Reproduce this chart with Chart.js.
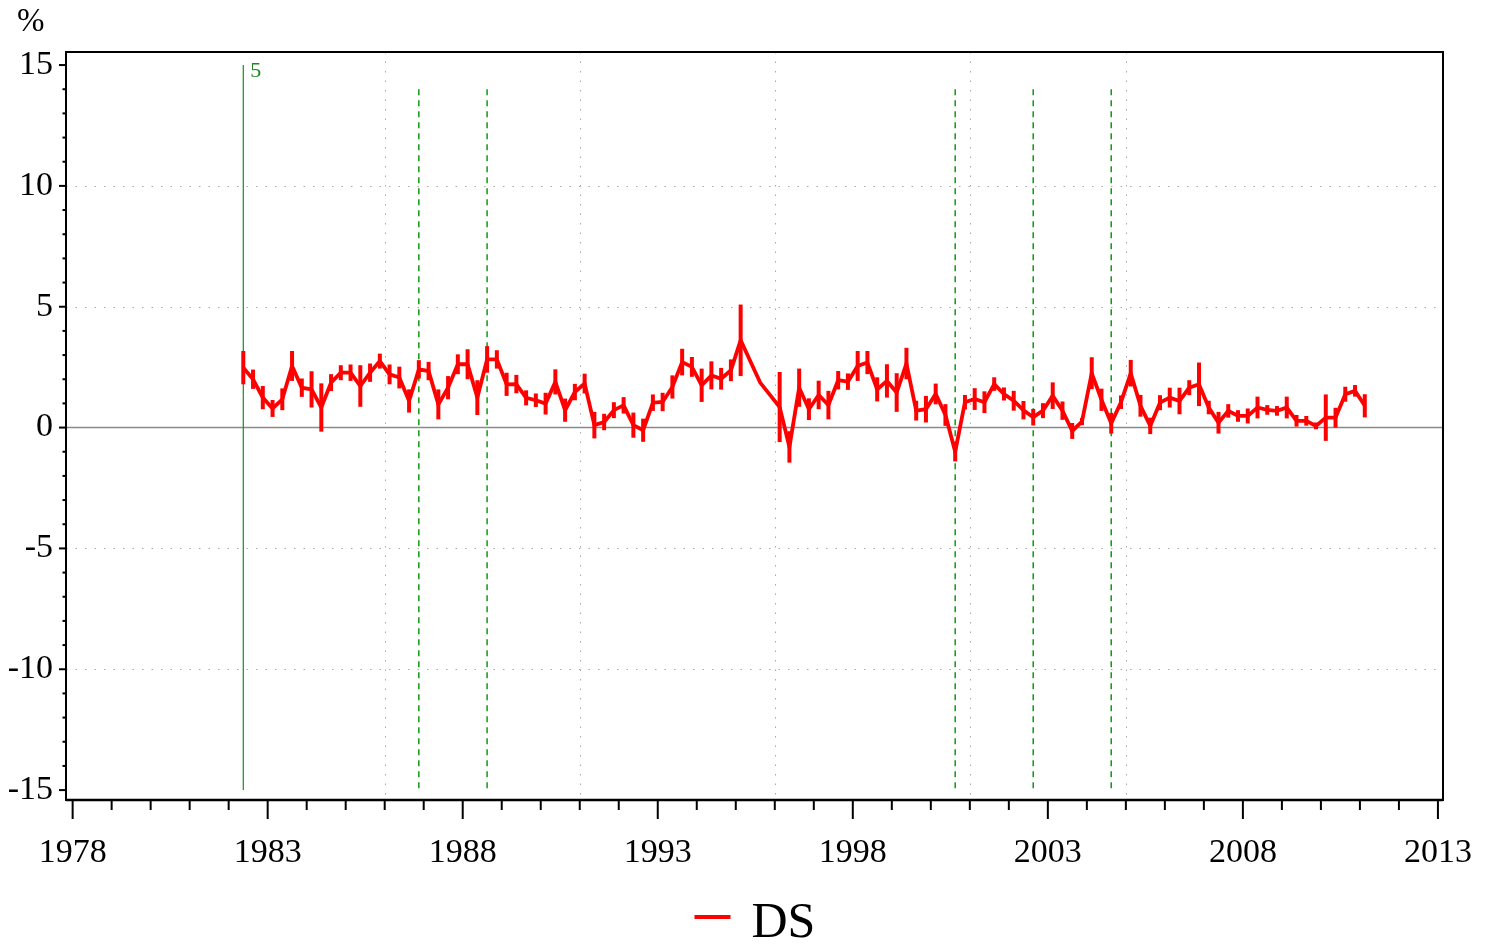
<!DOCTYPE html>
<html>
<head>
<meta charset="utf-8">
<title>DS</title>
<script src="https://cdn.jsdelivr.net/npm/chart.js@4.4.1/dist/chart.umd.min.js"></script>
<style>
  html, body { margin: 0; padding: 0; background: #fff; }
  #wrap { width: 1489px; height: 945px; position: relative; }
</style>
</head>
<body>
<div id="wrap"><canvas id="chart"></canvas></div>
<script>
// quarterly observations, 1982Q2 - 2011Q1
const quarters = [
  '1982Q2','1982Q3','1982Q4',
  '1983Q1','1983Q2','1983Q3','1983Q4',
  '1984Q1','1984Q2','1984Q3','1984Q4',
  '1985Q1','1985Q2','1985Q3','1985Q4',
  '1986Q1','1986Q2','1986Q3','1986Q4',
  '1987Q1','1987Q2','1987Q3','1987Q4',
  '1988Q1','1988Q2','1988Q3','1988Q4',
  '1989Q1','1989Q2','1989Q3','1989Q4',
  '1990Q1','1990Q2','1990Q3','1990Q4',
  '1991Q1','1991Q2','1991Q3','1991Q4',
  '1992Q1','1992Q2','1992Q3','1992Q4',
  '1993Q1','1993Q2','1993Q3','1993Q4',
  '1994Q1','1994Q2','1994Q3','1994Q4',
  '1995Q1','1995Q2','1995Q3','1995Q4',
  '1996Q1','1996Q2','1996Q3','1996Q4',
  '1997Q1','1997Q2','1997Q3','1997Q4',
  '1998Q1','1998Q2','1998Q3','1998Q4',
  '1999Q1','1999Q2','1999Q3','1999Q4',
  '2000Q1','2000Q2','2000Q3','2000Q4',
  '2001Q1','2001Q2','2001Q3','2001Q4',
  '2002Q1','2002Q2','2002Q3','2002Q4',
  '2003Q1','2003Q2','2003Q3','2003Q4',
  '2004Q1','2004Q2','2004Q3','2004Q4',
  '2005Q1','2005Q2','2005Q3','2005Q4',
  '2006Q1','2006Q2','2006Q3','2006Q4',
  '2007Q1','2007Q2','2007Q3','2007Q4',
  '2008Q1','2008Q2','2008Q3','2008Q4',
  '2009Q1','2009Q2','2009Q3','2009Q4',
  '2010Q1','2010Q2','2010Q3','2010Q4',
  '2011Q1'
];

// DS, %
const dsValues = [
  2.48, 2.0, 1.24,
  0.79, 1.17, 2.55, 1.65,
  1.58, 0.83, 1.86, 2.27,
  2.27, 1.72, 2.27, 2.75,
  2.2, 2.07, 1.1, 2.41,
  2.34, 0.96, 1.65, 2.62,
  2.62, 1.24, 2.82, 2.82,
  1.79, 1.8, 1.23, 1.13,
  0.99, 1.89, 0.72, 1.47,
  1.82, 0.1, 0.23, 0.72,
  0.92, 0.1, -0.11, 1.03,
  1.06, 1.68, 2.71, 2.51,
  1.75, 2.16, 2.02, 2.37,
  3.61, null, 1.86, null,
  0.85, -0.8, 1.65, 0.76,
  1.35, 0.93, 1.96, 1.9,
  2.55, 2.69, 1.58, 1.93,
  1.45, 2.65, 0.7, 0.76,
  1.39, 0.52, -1.0, 1.05,
  1.18, 1.05, 1.8, 1.39,
  1.11, 0.72, 0.43, 0.7,
  1.32, 0.7, -0.14, 0.25,
  2.25, 1.15, 0.18, 1.05,
  2.25, 0.9, 0.07, 1.03,
  1.24, 1.1, 1.65, 1.79,
  0.83, 0.2, 0.69, 0.48,
  0.48, 0.83, 0.73, 0.69,
  0.83, 0.28, 0.28, 0.07,
  0.41, 0.41, 1.38, 1.52,
  0.9
];

// half length of the vertical bar at each point
const dsErrors = [
  0.69, 0.4, 0.48,
  0.35, 0.45, 0.62, 0.38,
  0.75, 1.0, 0.35, 0.31,
  0.34, 0.86, 0.38, 0.31,
  0.41, 0.45, 0.48, 0.38,
  0.38, 0.62, 0.48, 0.41,
  0.62, 0.72, 0.55, 0.38,
  0.48, 0.38, 0.31, 0.28,
  0.45, 0.52, 0.48, 0.34,
  0.41, 0.55, 0.34, 0.33,
  0.34, 0.52, 0.48, 0.34,
  0.38, 0.48, 0.55, 0.41,
  0.69, 0.58, 0.45, 0.45,
  1.48, null, 0, null,
  1.45, 0.65, 0.79, 0.45,
  0.59, 0.59, 0.38, 0.34,
  0.62, 0.48, 0.5, 0.69,
  0.8, 0.65, 0.41, 0.55,
  0.43, 0.45, 0.4, 0.3,
  0.45, 0.45, 0.28, 0.27,
  0.41, 0.38, 0.34, 0.31,
  0.55, 0.38, 0.33, 0.15,
  0.66, 0.46, 0.43, 0.28,
  0.55, 0.45, 0.34, 0.31,
  0.41, 0.55, 0.31, 0.9,
  0.28, 0.45, 0.28, 0.24,
  0.31, 0.45, 0.2, 0.2,
  0.45, 0.24, 0.2, 0.14,
  0.96, 0.41, 0.31, 0.24,
  0.48
];

const xTickYears = [1978, 1983, 1988, 1993, 1998, 2003, 2008, 2013];
const yTickValues = [-15, -10, -5, 0, 5, 10, 15];
const gridYears = [1986, 1991, 1996, 2001, 2005];
const gridLevels = [-10, -5, 5, 10];
const unitLabel = '%';

// green markers
const breakQuarter = '1982Q2';
const breakLabel = '5';
const dashedQuarters = ['1986Q4', '1988Q3', '2000Q3', '2002Q3', '2004Q3'];

const serif = '"Liberation Serif", "Times New Roman", serif';

// '1990Q3' -> middle of that quarter as a decimal year
const toYear = q => Number(q.slice(0, 4)) + (Number(q.slice(5)) - 1) / 4 + 0.125;

const points = quarters.map((q, i) => ({ x: toYear(q), y: dsValues[i] }));

function seg(ctx, x1, y1, x2, y2) {
  ctx.beginPath();
  ctx.moveTo(x1, y1);
  ctx.lineTo(x2, y2);
  ctx.stroke();
}

const overlay = {
  id: 'overlay',
  beforeDatasetsDraw(chart) {
    const { ctx, chartArea: a, scales: { x, y } } = chart;
    ctx.save();

    // dotted grid
    ctx.strokeStyle = '#a8a8a8';
    ctx.lineWidth = 1;
    ctx.setLineDash([1.5, 8]);
    gridLevels.forEach(v => {
      const py = Math.round(y.getPixelForValue(v)) + 0.5;
      seg(ctx, a.left, py, a.right, py);
    });
    gridYears.forEach(v => {
      const px = Math.round(x.getPixelForValue(v)) + 0.5;
      seg(ctx, px, a.top, px, a.bottom);
    });

    // zero line
    ctx.setLineDash([]);
    ctx.strokeStyle = '#8a8a8a';
    ctx.lineWidth = 1.5;
    const y0 = y.getPixelForValue(0);
    seg(ctx, a.left, y0, a.right, y0);

    // green markers
    ctx.strokeStyle = '#1a8a1a';
    ctx.lineWidth = 1.2;
    const bx = x.getPixelForValue(toYear(breakQuarter));
    seg(ctx, bx, y.getPixelForValue(15), bx, y.getPixelForValue(-15));
    ctx.fillStyle = '#1a8a1a';
    ctx.font = '22px ' + serif;
    ctx.textBaseline = 'middle';
    ctx.textAlign = 'left';
    ctx.fillText(breakLabel, bx + 7, y.getPixelForValue(15) + 6);

    ctx.strokeStyle = '#119911';
    ctx.lineWidth = 1.5;
    ctx.setLineDash([6, 5]);
    dashedQuarters.forEach(q => {
      const px = x.getPixelForValue(toYear(q));
      seg(ctx, px, y.getPixelForValue(14), px, y.getPixelForValue(-15));
    });
    ctx.restore();
  },
  afterDatasetsDraw(chart) {
    const { ctx, scales: { x, y } } = chart;
    ctx.save();
    ctx.strokeStyle = '#ff0000';
    ctx.lineWidth = 4;
    points.forEach((p, i) => {
      const e = dsErrors[i];
      if (p.y === null || !e) return;
      const px = x.getPixelForValue(p.x);
      seg(ctx, px, y.getPixelForValue(p.y + e), px, y.getPixelForValue(p.y - e));
    });
    ctx.restore();
  },
  afterDraw(chart) {
    const { ctx, chartArea: a, scales: { x, y } } = chart;
    ctx.save();
    ctx.strokeStyle = '#000';

    // frame
    ctx.lineWidth = 2;
    ctx.strokeRect(a.left, a.top, a.right - a.left, a.bottom - a.top);
    ctx.lineWidth = 2.5;
    seg(ctx, a.left, a.bottom, a.right, a.bottom);

    // x ticks, major every 5 years, minor yearly
    ctx.lineWidth = 2;
    for (let yr = xTickYears[0]; yr <= xTickYears[xTickYears.length - 1]; yr++) {
      const px = x.getPixelForValue(yr);
      const len = xTickYears.includes(yr) ? 19 : 10;
      seg(ctx, px, a.bottom, px, a.bottom + len);
    }
    // y ticks, major every 5, minor every 1
    for (let v = yTickValues[0]; v <= yTickValues[yTickValues.length - 1]; v++) {
      const py = y.getPixelForValue(v);
      const len = yTickValues.includes(v) ? 7 : 3.5;
      seg(ctx, a.left - len, py, a.left, py);
    }

    // unit label above the y axis
    ctx.fillStyle = '#000';
    ctx.font = '33px ' + serif;
    ctx.textAlign = 'left';
    ctx.textBaseline = 'middle';
    ctx.fillText(unitLabel, 17, a.top - 30);

    // legend
    const cx = (a.left + a.right) / 2;
    const ly = a.bottom + 117;
    ctx.strokeStyle = '#ff0000';
    ctx.lineWidth = 4;
    seg(ctx, cx - 60, ly, cx - 24, ly);
    ctx.font = '50px ' + serif;
    ctx.textBaseline = 'alphabetic';
    ctx.fillText(chart.data.datasets[0].label, cx - 3, ly + 20);
    ctx.restore();
  }
};

new Chart(document.getElementById('chart'), {
  type: 'line',
  data: {
    datasets: [{
      label: 'DS',
      data: points,
      borderColor: '#ff0000',
      backgroundColor: '#ff0000',
      borderWidth: 3.8,
      pointRadius: 0,
      tension: 0,
      spanGaps: true
    }]
  },
  options: {
    responsive: true,
    maintainAspectRatio: false,
    animation: false,
    devicePixelRatio: 1,
    layout: { padding: { left: 0, right: 46, top: 52, bottom: 0 } },
    plugins: {
      legend: { display: false },
      tooltip: { enabled: false },
      title: { display: false }
    },
    scales: {
      x: {
        type: 'linear',
        min: 1977.83,
        max: 2013.13,
        afterBuildTicks: s => { s.ticks = xTickYears.map(v => ({ value: v })); },
        afterFit: s => { s.height = 145; s.paddingLeft = 0; s.paddingRight = 0; },
        grid: { display: false, drawTicks: false },
        border: { display: false },
        ticks: {
          padding: 33,
          color: '#000',
          maxRotation: 0,
          autoSkip: false,
          font: { family: serif, size: 34 },
          callback: v => String(v)
        }
      },
      y: {
        min: -15.41,
        max: 15.54,
        afterBuildTicks: s => { s.ticks = yTickValues.map(v => ({ value: v })); },
        afterFit: s => { s.width = 66; s.paddingTop = 0; s.paddingBottom = 0; },
        grid: { display: false, drawTicks: false },
        border: { display: false },
        ticks: {
          padding: 13,
          color: '#000',
          font: { family: serif, size: 34 },
          callback: v => String(v)
        }
      }
    }
  },
  plugins: [overlay]
});
</script>
</body>
</html>
